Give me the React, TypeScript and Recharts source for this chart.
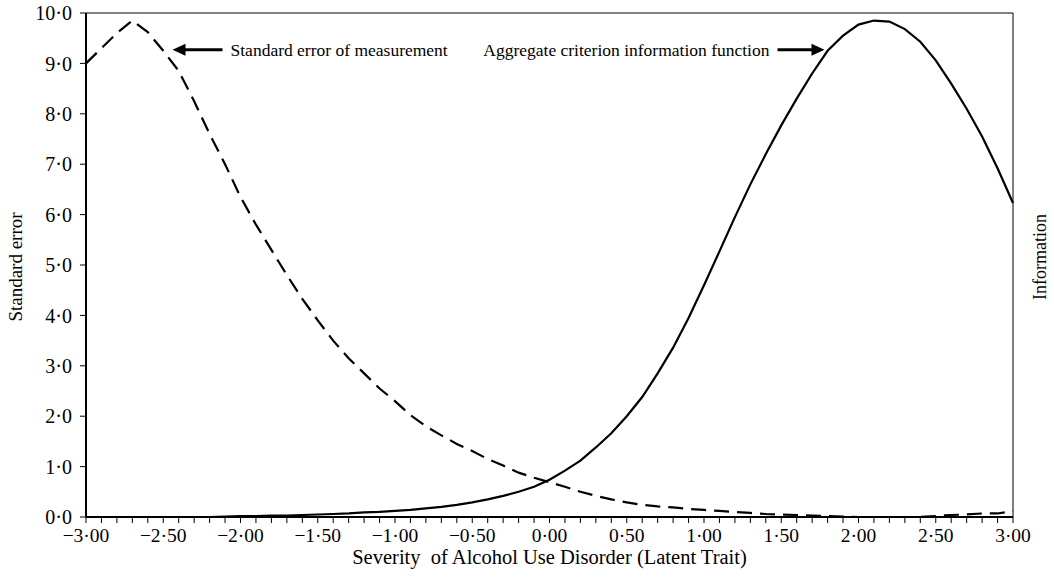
import React from 'react';
import { LineChart, Line, XAxis, YAxis, ReferenceLine, ReferenceDot } from 'recharts';

// Latent trait (theta) grid
const theta = [
  -3.0, -2.9, -2.8, -2.7, -2.6, -2.5, -2.4, -2.3, -2.2, -2.1,
  -2.0, -1.9, -1.8, -1.7, -1.6, -1.5, -1.4, -1.3, -1.2, -1.1,
  -1.0, -0.9, -0.8, -0.7, -0.6, -0.5, -0.4, -0.3, -0.2, -0.1,
  0.0, 0.1, 0.2, 0.3, 0.4, 0.5, 0.6, 0.7, 0.8, 0.9,
  1.0, 1.1, 1.2, 1.3, 1.4, 1.5, 1.6, 1.7, 1.8, 1.9,
  2.0, 2.1, 2.2, 2.3, 2.4, 2.5, 2.6, 2.7, 2.8, 2.9, 3.0,
];

// Standard error of measurement (dashed)
const standardError = [
  9.0, 9.3, 9.6, 9.85, 9.62, 9.25, 8.85, 8.25, 7.6, 7.0,
  6.35, 5.8, 5.3, 4.8, 4.33, 3.9, 3.5, 3.15, 2.85, 2.55,
  2.3, 2.02, 1.8, 1.62, 1.45, 1.31, 1.15, 1.02, 0.88, 0.78,
  0.69, 0.6, 0.5, 0.42, 0.35, 0.29, 0.24, 0.21, 0.19, 0.16,
  0.14, 0.12, 0.1, 0.08, 0.06, 0.05, 0.04, 0.03, 0.02, 0.01,
  0.0, 0.0, 0.0, 0.0, 0.0, 0.02, 0.04, 0.05, 0.07, 0.07, 0.12,
];

// Aggregate criterion information function (solid)
const information = [
  0, 0, 0, 0, 0, 0, 0, 0, 0, 0.01,
  0.02, 0.02, 0.03, 0.03, 0.04, 0.05, 0.06, 0.07, 0.09, 0.1,
  0.12, 0.14, 0.17, 0.2, 0.24, 0.29, 0.35, 0.42, 0.5, 0.6,
  0.74, 0.92, 1.12, 1.38, 1.66, 2.0, 2.38, 2.85, 3.36, 3.95,
  4.6, 5.27, 5.95, 6.6, 7.2, 7.77, 8.3, 8.8, 9.25, 9.55,
  9.77, 9.85, 9.83, 9.68, 9.43, 9.06, 8.6, 8.1, 7.55, 6.92, 6.23,
];

const yTicks = [0, 1, 2, 3, 4, 5, 6, 7, 8, 9, 10];

// Annotations: arrow tip position in data coordinates
const annotations = [
  { x: -2.44, y: 9.27, text: 'Standard error of measurement', dir: 'left' },
  { x: 1.78, y: 9.27, text: 'Aggregate criterion information function', dir: 'right' },
];

const data = theta.map((t, i) => ({ theta: t, se: standardError[i], info: information[i] }));

const FONT = "'Liberation Serif', 'Times New Roman', serif";

const fmtX = (v: number) => {
  const r = Math.round(v * 10) / 10;
  if (Math.abs(r * 2 - Math.round(r * 2)) > 1e-6) return '';
  const s = Math.abs(r).toFixed(2).replace('.', '\u00B7');
  return (r < 0 ? '\u2212' : '') + s;
};
const fmtY = (v: number) => v.toFixed(1).replace('.', '\u00B7');

const ArrowNote = (props: any) => {
  const { cx, cy, payload } = props;
  const a = payload;
  if (cx == null || cy == null) return null;
  if (a.dir === 'left') {
    return (
      <g>
        <polygon points={`${cx},${cy} ${cx + 13},${cy - 6} ${cx + 13},${cy + 6}`} fill="#000" />
        <line x1={cx + 12} y1={cy} x2={cx + 50} y2={cy} stroke="#000" strokeWidth={3} />
        <text x={cx + 58} y={cy + 6} fontFamily={FONT} fontSize={17.5} fill="#000" textAnchor="start">
          {a.text}
        </text>
      </g>
    );
  }
  return (
    <g>
      <polygon points={`${cx},${cy} ${cx - 13},${cy - 6} ${cx - 13},${cy + 6}`} fill="#000" />
      <line x1={cx - 12} y1={cy} x2={cx - 47} y2={cy} stroke="#000" strokeWidth={3} />
      <text x={cx - 55} y={cy + 6} fontFamily={FONT} fontSize={17.5} fill="#000" textAnchor="end">
        {a.text}
      </text>
    </g>
  );
};

export default function App() {
  return (
    <div style={{ position: 'absolute', left: 0, top: 0, width: 1054, height: 583, background: '#fff' }}>
      <LineChart width={1054} height={583} data={data} margin={{ top: 13, right: 0, bottom: 0, left: 0 }}>
        <XAxis
          dataKey="theta"
          type="number"
          domain={[-3, 3]}
          ticks={theta}
          interval={0}
          tickFormatter={fmtX}
          height={66}
          tickSize={6}
          tickMargin={5}
          axisLine={{ stroke: '#000', strokeWidth: 2 }}
          tickLine={{ stroke: '#000', strokeWidth: 1 }}
          tick={{ fontFamily: FONT, fontSize: 19.5, fill: '#000' }}
          label={{
            content: (p: any) => {
              const vb = p.viewBox || {};
              return (
                <text x={vb.x + vb.width / 2} y={vb.y + 47} textAnchor="middle" fontFamily={FONT} fontSize={20.5} fill="#000">
                  {'Severity\u00A0 of Alcohol Use Disorder (Latent Trait)'}
                </text>
              );
            },
          }}
        />
        <YAxis
          yAxisId="se"
          domain={[0, 10]}
          ticks={yTicks}
          interval={0}
          tickFormatter={fmtY}
          width={86}
          tickSize={6}
          tickMargin={8}
          axisLine={{ stroke: '#000', strokeWidth: 2 }}
          tickLine={{ stroke: '#000', strokeWidth: 1 }}
          tick={{ fontFamily: FONT, fontSize: 20, fill: '#000' }}
          label={{
            content: (p: any) => {
              const vb = p.viewBox || {};
              const cy = vb.y + vb.height / 2 + 2;
              return (
                <text x={22} y={cy} transform={`rotate(-90, 22, ${cy})`} textAnchor="middle" fontFamily={FONT} fontSize={19} fill="#000">
                  Standard error
                </text>
              );
            },
          }}
        />
        <YAxis
          yAxisId="info"
          orientation="right"
          domain={[0, 10]}
          ticks={yTicks}
          width={41}
          tick={false}
          tickLine={false}
          axisLine={{ stroke: '#000', strokeWidth: 1 }}
          label={{
            content: (p: any) => {
              const vb = p.viewBox || {};
              const cy = vb.y + vb.height / 2 - 8;
              const x = vb.x + 33;
              return (
                <text x={x} y={cy} transform={`rotate(-90, ${x}, ${cy})`} textAnchor="middle" fontFamily={FONT} fontSize={18} fill="#000">
                  Information
                </text>
              );
            },
          }}
        />
        <ReferenceLine yAxisId="se" y={10} stroke="#000" strokeWidth={1} />
        <Line
          yAxisId="se"
          dataKey="se"
          type="linear"
          stroke="#000"
          strokeWidth={2.2}
          strokeDasharray="15 8"
          dot={false}
          activeDot={false}
          isAnimationActive={false}
        />
        <Line
          yAxisId="info"
          dataKey="info"
          type="linear"
          stroke="#000"
          strokeWidth={2.2}
          dot={false}
          activeDot={false}
          isAnimationActive={false}
        />
        {annotations.map((a, i) => (
          <ReferenceDot
            key={i}
            yAxisId="se"
            x={a.x}
            y={a.y}
            r={0}
            shape={(p: any) => <ArrowNote {...p} payload={a} />}
          />
        ))}
      </LineChart>
    </div>
  );
}
